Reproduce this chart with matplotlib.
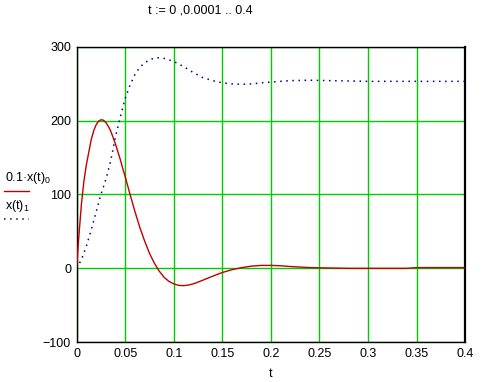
import matplotlib
matplotlib.use("Agg")
import matplotlib.pyplot as plt
from matplotlib.lines import Line2D

plt.rcParams['font.family'] = ['Liberation Sans', 'DejaVu Sans']
plt.rcParams['mathtext.fontset'] = 'custom'
plt.rcParams['mathtext.rm'] = 'Liberation Sans'
plt.rcParams['mathtext.it'] = 'Liberation Sans'

# values
t_red = [0, 0.00125, 0.0025, 0.005, 0.0075, 0.01, 0.0125, 0.015, 0.0175, 0.02,
         0.0225, 0.025, 0.0275, 0.03, 0.0325, 0.035, 0.0375, 0.04, 0.0425, 0.045,
         0.0475, 0.05, 0.055, 0.06, 0.065, 0.07, 0.075, 0.08, 0.085, 0.09,
         0.095, 0.1, 0.105, 0.11, 0.115, 0.12, 0.125, 0.13, 0.135, 0.14,
         0.15, 0.16, 0.17, 0.18, 0.19, 0.2, 0.21, 0.22, 0.24, 0.26,
         0.28, 0.3, 0.34, 0.35, 0.4]
x0_scaled = [0, 25, 47, 88, 118, 140, 157, 174, 186, 194,
             199, 201, 200.5, 197.5, 192.4, 186, 177.3, 168, 157.7, 147,
             135, 124, 100, 77, 55.5, 37, 20.4, 7, -3.7, -12,
             -17.6, -21, -23, -23.4, -22.6, -21, -18.6, -16, -13.3, -10.6,
             -5.6, -1.8, 1, 3, 4, 4, 3.5, 2.5, 1, 0.5,
             0, 0, 0, 1, 1]

t_blue = [0, 0.005, 0.01, 0.015, 0.02, 0.025, 0.03, 0.035, 0.04, 0.045,
          0.05, 0.055, 0.06, 0.065, 0.07, 0.075, 0.08, 0.085, 0.09, 0.095,
          0.1, 0.11, 0.12, 0.13, 0.14, 0.15, 0.16, 0.17, 0.18, 0.19,
          0.2, 0.21, 0.22, 0.24, 0.26, 0.28, 0.3, 0.35, 0.4]
x1 = [0, 12, 30, 52, 76, 100, 120, 145, 178, 205,
      230, 248, 262, 272, 278, 282, 284.5, 285, 284, 282,
      280, 273, 265, 258, 254, 251, 249.5, 249, 249.5, 251,
      252, 253, 254, 254.5, 254, 253.5, 253, 253, 253]

x_ticks = [0, 0.05, 0.1, 0.15, 0.2, 0.25, 0.3, 0.35, 0.4]
x_labels = ["0", "0.05", "0.1", "0.15", "0.2", "0.25", "0.3", "0.35", "0.4"]
y_ticks = [-100, 0, 100, 200, 300]
y_labels = ["\u2212100", "0", "100", "200", "300"]

fig = plt.figure(figsize=(4.82, 3.82), dpi=100)
ax = fig.add_axes([0.159, 0.104, 0.806, 0.774])

ax.plot(t_red, x0_scaled, color="#c00000", lw=1.0, zorder=3)
ax.plot(t_blue, x1, color="#000080", lw=1.1, linestyle=(0, (1, 3)), zorder=3)

ax.set_xlim(0, 0.4)
ax.set_ylim(-100, 300)
ax.set_xticks(x_ticks)
ax.set_xticklabels(x_labels)
ax.set_yticks(y_ticks)
ax.set_yticklabels(y_labels)
ax.tick_params(length=0, labelsize=9, pad=4)
ax.grid(True, color="#00cc00", lw=1.0)
ax.set_axisbelow(True)
for s in ax.spines.values():
    s.set_color("black")
    s.set_linewidth(1.0)
ax.spines["right"].set_linewidth(1.6)

ax.set_xlabel("t", fontsize=9, labelpad=6)

fig.text(0.415, 0.972, "t := 0 ,0.0001 .. 0.4", fontsize=9, ha="center", va="center")

# legend on the left, Mathcad style
fig.text(0.01, 0.533, "0.1\u00b7x(t)$_0$", fontsize=9, va="center")
fig.add_artist(Line2D([0.008, 0.06], [0.499, 0.499], color="#c00000", lw=1.0))
fig.text(0.01, 0.462, "x(t)$_1$", fontsize=9, va="center")
fig.add_artist(Line2D([0.008, 0.06], [0.428, 0.428], color="#000080", lw=1.1,
                      linestyle=(0, (1, 3))))

fig.savefig("out.png", dpi=100)
